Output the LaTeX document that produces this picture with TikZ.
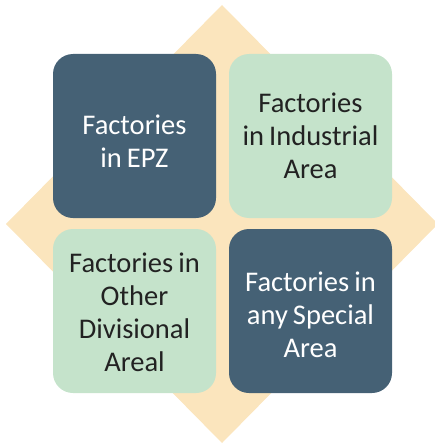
\documentclass[tikz,border=0pt]{standalone}
\usepackage{fontspec}
\setmainfont{Carlito}
\definecolor{darkbox}{HTML}{456175}
\definecolor{lightbox}{HTML}{C5E3CB}
\definecolor{peach}{HTML}{FBE5BD}
\definecolor{darktext}{HTML}{222222}
\tikzset{
  tile/.style={rounded corners=20pt, minimum width=163pt, minimum height=164pt, inner sep=0pt},
  darktile/.style={tile, fill=darkbox},
  lighttile/.style={tile, fill=lightbox},
  tiletext/.style={inner sep=0pt, text width=155pt, align=center, font=\fontsize{28.5}{33}\selectfont, execute at begin node={\spaceskip=5pt\relax}},
  lighttext/.style={tiletext, text=darktext},
  darktext/.style={tiletext, text=white}
}
\begin{document}
\begin{tikzpicture}[x=1pt,y=-1pt]
\useasboundingbox (0,0) rectangle (434,444);
\fill[peach] (222,5) -- (438,224) -- (222,443) -- (6,224) -- cycle;
\node[darktile] (epz) at (134.5,136) {};
\node[lighttile] (ind) at (310.5,136) {};
\node[lighttile] (oth) at (134.5,311) {};
\node[darktile] (spe) at (310.5,311) {};
\node[darktext] (epzt) at ([yshift=-5pt]epz.center) {Factories\\in EPZ};
\node[lighttext] (indt) at (ind.center) {Factories\\in Industrial\\Area};
\node[lighttext] (otht) at ([yshift=-1pt]oth.center) {Factories in\\Other\\Divisional\\Areal};
\node[darktext] (spet) at ([yshift=-4pt]spe.center) {Factories in\\any Special\\Area};
\end{tikzpicture}
\end{document}
